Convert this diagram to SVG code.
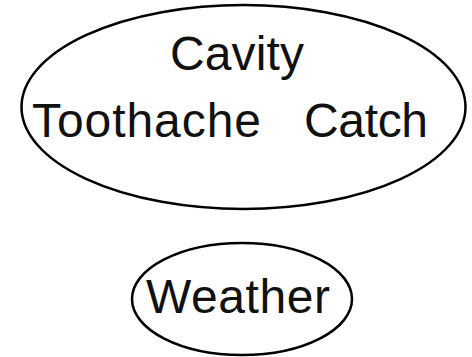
<svg xmlns="http://www.w3.org/2000/svg" width="472" height="357" viewBox="0 0 472 357">
<style>
.n{fill:#fff;stroke:#000;stroke-width:2.5}
.t{font-family:"Liberation Sans",Arial,sans-serif;font-size:48px;fill:#111}
</style>
<rect width="472" height="357" fill="#fff"/>
<g id="connectors"></g>
<g id="cluster">
<ellipse class="n" cx="243.5" cy="107" rx="222" ry="102"/>
</g>
<g id="cavity"><text class="t" x="170" y="70" textLength="134" lengthAdjust="spacing">Cavity</text></g>
<g id="toothache"><text class="t" x="32" y="136.5" textLength="229" lengthAdjust="spacing">Toothache</text></g>
<g id="catch"><text class="t" x="304" y="136.5" textLength="124" lengthAdjust="spacing">Catch</text></g>
<g id="weather">
<ellipse class="n" cx="242" cy="299" rx="110" ry="56"/>
<text class="t" x="146" y="313" textLength="184" lengthAdjust="spacing">Weather</text>
</g>
</svg>
